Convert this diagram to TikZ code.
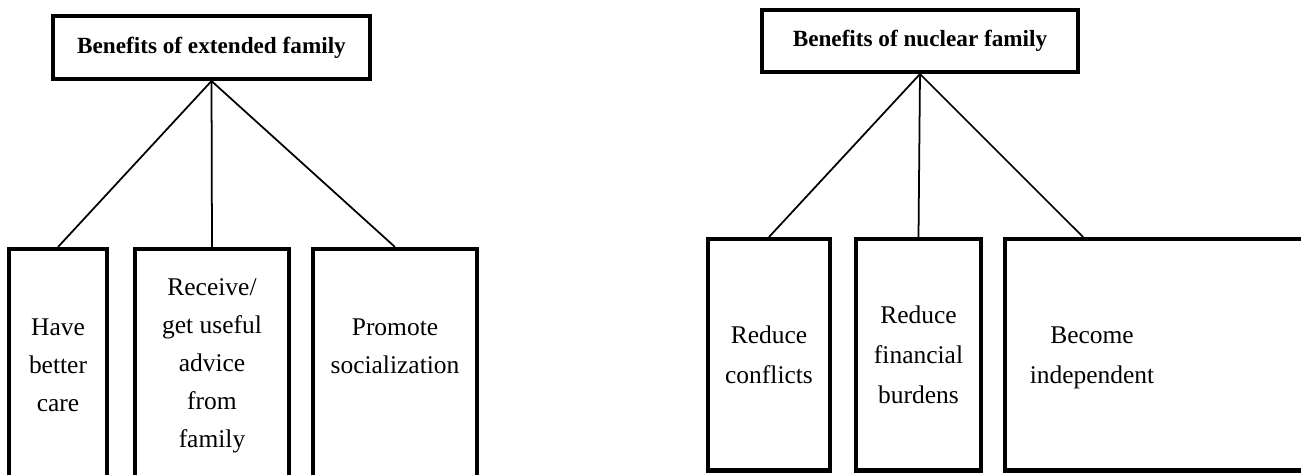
\documentclass[tikz,border=0pt]{standalone}
\usepackage{fontspec}
\setmainfont{Liberation Serif}

\begin{document}
\begin{tikzpicture}[x=0.02cm,y=-0.02cm,
  headbox/.style={draw,line width=2.3pt,inner sep=0pt,
    font=\fontsize{13.2}{15}\selectfont\bfseries},
  itembox/.style={draw,line width=2.3pt,inner sep=0pt,minimum height=4.66cm},
  itemtext/.style={align=center,font=\fontsize{14.5}{21.6}\selectfont},
  widetext/.style={align=center,font=\fontsize{14.5}{22.8}\selectfont},
  link/.style={line width=1pt}]
\clip (0,0) rectangle (1301,474);
\fill[white] (0,0) rectangle (1301,474);
% extended family
\node[headbox,minimum width=6.34cm,minimum height=1.26cm] (extended) at (211.5,47.5) {Benefits of extended family};
\node[itembox,itemtext,minimum width=1.96cm] (care) at (58,365.5) {Have\\better\\care};
\node[itembox,itemtext,minimum width=3.08cm] (advice) at (212,365.5) {Receive/\\get useful\\advice\\from\\family};
\node[itembox,minimum width=3.28cm] (social) at (395,365.5) {};
\node[itemtext] (socialtext) at (395,346) {Promote\\socialization};
\draw[link] (extended.south) -- (care.north);
\draw[link] (extended.south) -- (advice.north);
\draw[link] (extended.south) -- (social.north);
% nuclear family
\node[headbox,minimum width=6.32cm,minimum height=1.24cm] (nuclear) at (920,41) {Benefits of nuclear family};
\node[itembox,widetext,minimum width=2.44cm,minimum height=4.63cm] (conflict) at (769,354.75) {Reduce\\conflicts};
\node[itembox,widetext,minimum width=2.5cm,minimum height=4.63cm] (burden) at (918.5,354.75) {Reduce\\financial\\burdens};
\node[itembox,minimum width=6.3cm,minimum height=4.63cm] (indep) at (1162.5,354.75) {};
\node[widetext] (indeptext) at (1092,358) {Become\\independent};
\draw[link] (nuclear.south) -- (conflict.north);
\draw[link] (nuclear.south) -- (burden.north);
\draw[link] (nuclear.south) -- ([xshift=-0.18cm]indeptext |- indep.north);
\end{tikzpicture}
\end{document}
